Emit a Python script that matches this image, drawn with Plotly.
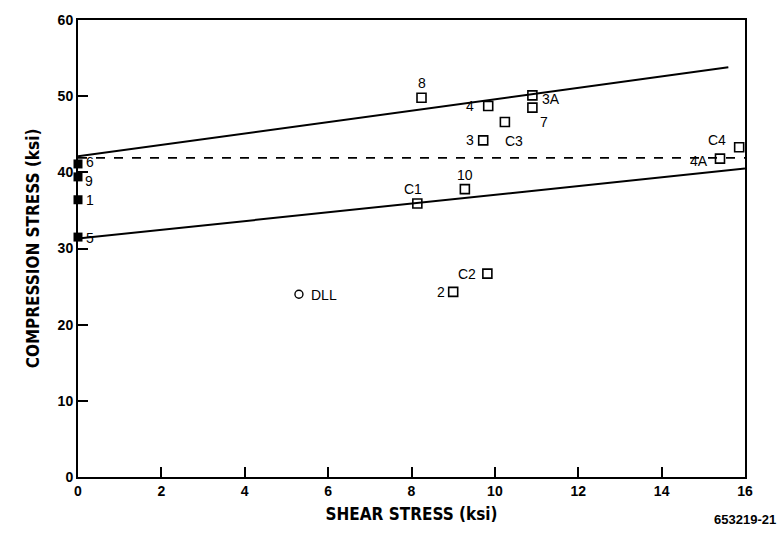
import plotly.graph_objects as go

# Specimens tested under pure compression (no shear)
pure_labels = ["6", "9", "1", "5"]
pure_shear = [0.0, 0.0, 0.0, 0.0]
pure_comp = [41.1, 39.4, 36.4, 31.5]

# Specimens tested under combined shear and compression
comb_labels = ["8", "4", "3A", "7", "C3", "3", "C4", "4A", "10", "C1", "C2", "2"]
comb_shear = [8.24, 9.84, 10.90, 10.90, 10.24, 9.72, 15.86, 15.40, 9.28, 8.14, 9.82, 9.00]
comb_comp = [49.8, 48.7, 50.1, 48.5, 46.6, 44.2, 43.3, 41.8, 37.8, 35.9, 26.7, 24.3]

# Design limit load point
dll_label = ["DLL"]
dll_shear = [5.30]
dll_comp = [24.0]

# Upper and lower bound lines, and the dashed reference level
upper_x = [0.0, 15.6]
upper_y = [42.1, 53.8]
lower_x = [0.0, 16.0]
lower_y = [31.3, 40.5]
ref_x = [0.0, 16.0]
ref_y = [41.9, 41.9]

x_ticks = [0, 2, 4, 6, 8, 10, 12, 14, 16]
y_ticks = [0, 10, 20, 30, 40, 50, 60]

# Pixel offsets of each point label from its marker (dx, dy; dy > 0 is up)
label_offsets = {
    "6": (12, 2), "9": (11, -4), "1": (12, 0), "5": (12, -1),
    "8": (0, 15), "4": (-18, 0), "3A": (19, -4), "7": (12, -14),
    "C3": (9, -19), "3": (-13, 0), "C4": (-22, 7), "4A": (-21, -2),
    "10": (0, 14), "C1": (-4, 15), "C2": (-20, 0), "2": (-12, 0),
    "DLL": (25, -1),
}

label_font = dict(family="Liberation Sans, Arial, sans-serif", size=14, color="black")

fig = go.Figure()

fig.add_trace(go.Scatter(x=upper_x, y=upper_y, mode="lines",
                         line=dict(color="black", width=2), hoverinfo="skip"))
fig.add_trace(go.Scatter(x=lower_x, y=lower_y, mode="lines",
                         line=dict(color="black", width=2), hoverinfo="skip"))
fig.add_trace(go.Scatter(x=ref_x, y=ref_y, mode="lines",
                         line=dict(color="black", width=1.6, dash="dash"), hoverinfo="skip"))

fig.add_trace(go.Scatter(
    x=comb_shear, y=comb_comp, mode="markers", cliponaxis=False,
    marker=dict(symbol="square-open", size=9, color="black", line=dict(width=1.6)),
))
fig.add_trace(go.Scatter(
    x=pure_shear, y=pure_comp, mode="markers", cliponaxis=False,
    marker=dict(symbol="square", size=9, color="black"),
))
fig.add_trace(go.Scatter(
    x=dll_shear, y=dll_comp, mode="markers", cliponaxis=False,
    marker=dict(symbol="circle-open", size=8, color="black", line=dict(width=1.4)),
))

annotations = []
for labels, xs, ys in [(comb_labels, comb_shear, comb_comp),
                       (pure_labels, pure_shear, pure_comp),
                       (dll_label, dll_shear, dll_comp)]:
    for lab, xv, yv in zip(labels, xs, ys):
        dx, dy = label_offsets[lab]
        annotations.append(dict(
            x=xv, y=yv, text=lab, showarrow=False, xanchor="center", yanchor="middle",
            xshift=dx, yshift=dy, font=label_font,
        ))

# Drawing number below the lower-right corner of the plot area
annotations.append(dict(
    text="<b>653219-21</b>", xref="paper", yref="paper",
    x=(778 - 78) / (745 - 78), y=-(520 - 477) / (477 - 14),
    xanchor="right", yanchor="middle", showarrow=False,
    font=dict(family="Liberation Sans, Arial, sans-serif", size=13, color="black"),
))

title_font = dict(family="DejaVu Sans Condensed, Liberation Sans, Arial, sans-serif",
                  size=17, color="black")
tick_font = dict(family="Liberation Sans, Arial, sans-serif", size=14, color="black")

fig.update_layout(
    width=784, height=535,
    margin=dict(l=78, r=39, t=14, b=58),
    paper_bgcolor="white", plot_bgcolor="white",
    showlegend=False,
    font=dict(family="Liberation Sans, Arial, sans-serif", color="black"),
    xaxis=dict(
        range=[0, 16], tickvals=x_ticks, ticktext=[f"<b>{v}</b>" for v in x_ticks],
        ticks="inside", ticklen=10, tickwidth=1.5, tickcolor="black",
        showline=True, linecolor="black", linewidth=2, mirror=True,
        showgrid=False, zeroline=False, tickfont=tick_font,
        title=dict(text="<b>SHEAR STRESS (ksi)</b>", font=title_font, standoff=10),
    ),
    yaxis=dict(
        range=[0, 60], tickvals=y_ticks, ticktext=[f"<b>{v}</b>" for v in y_ticks],
        ticks="inside", ticklen=10, tickwidth=1.5, tickcolor="black",
        showline=True, linecolor="black", linewidth=2, mirror=True,
        showgrid=False, zeroline=False, tickfont=tick_font,
        title=dict(text="<b>COMPRESSION STRESS (ksi)</b>", font=title_font, standoff=14),
    ),
    annotations=annotations,
)

fig.write_html("out.html")
